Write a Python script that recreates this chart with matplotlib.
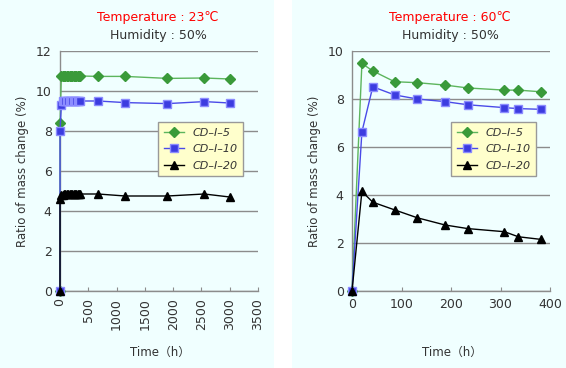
import matplotlib
matplotlib.use("Agg")
import matplotlib.pyplot as plt
from matplotlib.patches import Rectangle

plt.rcParams['font.family'] = ['DejaVu Sans', 'Noto Sans CJK JP']

# ---- Data: 23 C ----
t23 = [0, 1, 24, 48, 72, 96, 120, 144, 168, 192, 216, 240, 264, 288, 312, 336, 360, 672, 1152, 1900, 2550, 3000]
cd5_23 = [0, 8.4, 10.75, 10.75, 10.75, 10.75, 10.75, 10.75, 10.75, 10.75, 10.75, 10.75, 10.75, 10.75, 10.75, 10.75, 10.75, 10.73, 10.73, 10.63, 10.65, 10.6]
cd10_23 = [0, 8.0, 9.3, 9.48, 9.5, 9.5, 9.5, 9.5, 9.5, 9.5, 9.5, 9.5, 9.5, 9.5, 9.5, 9.5, 9.5, 9.5, 9.42, 9.37, 9.47, 9.4]
cd20_23 = [0, 4.6, 4.8, 4.82, 4.85, 4.85, 4.85, 4.85, 4.85, 4.85, 4.85, 4.85, 4.85, 4.85, 4.85, 4.85, 4.85, 4.85, 4.75, 4.75, 4.85, 4.7]

# ---- Data: 60 C ----
t60 = [0, 20, 42, 86, 132, 188, 234, 308, 336, 382]
cd5_60 = [0, 9.48, 9.17, 8.72, 8.68, 8.58, 8.46, 8.37, 8.37, 8.3]
cd10_60 = [0, 6.63, 8.51, 8.17, 8.0, 7.89, 7.76, 7.64, 7.6, 7.57]
cd20_60 = [0, 4.15, 3.7, 3.38, 3.05, 2.75, 2.6, 2.47, 2.26, 2.15]

labels = ["CD\u2013I\u20135", "CD\u2013I\u201310", "CD\u2013I\u201320"]
titles = [("Temperature : 23\u2103", "Humidity : 50%"), ("Temperature : 60\u2103", "Humidity : 50%")]

BG = "#F0FFFF"
TXT = "#333333"
fig = plt.figure(figsize=(5.66, 3.68), dpi=100)
fig.patch.set_facecolor("white")
fig.patches.append(Rectangle((0, 0), 274/566, 1, transform=fig.transFigure, facecolor=BG, edgecolor="none", zorder=-10))
fig.patches.append(Rectangle((292/566, 0), 274/566, 1, transform=fig.transFigure, facecolor=BG, edgecolor="none", zorder=-10))

W, H = 566, 368
def axrect(x0, x1, y0, y1):
    return [x0/W, 1 - y1/H, (x1 - x0)/W, (y1 - y0)/H]

ax1 = fig.add_axes(axrect(60, 258, 51, 291))
ax2 = fig.add_axes(axrect(352, 550, 51, 291))

styles = [
    dict(color="#5DB55D", marker="D", mfc="#3A9A3A", mec="#3A9A3A", ms=5.5),
    dict(color="#4A4AE8", marker="s", mfc="#3C3CE0", mec="#8C8CFF", ms=5.5),
    dict(color="#000000", marker="^", mfc="#000000", mec="#000000", ms=5.5),
]

def setup(ax, t, series, xlim, xticks, ylim, yticks, rot, legend_pos):
    ax.set_facecolor(BG)
    for s, st, lab in zip(series, styles, labels):
        ax.plot(t, s, lw=1.0, label=lab, clip_on=False, zorder=3, **st)
    ax.set_xlim(*xlim)
    ax.set_ylim(*ylim)
    ax.set_xticks(xticks)
    ax.set_yticks(yticks)
    ax.grid(axis="y", color="#8C8C8C", lw=1.0)
    ax.set_axisbelow(True)
    for sp in ["top", "right"]:
        ax.spines[sp].set_visible(False)
    for sp in ["left", "bottom"]:
        ax.spines[sp].set_color("#8C8C8C")
        ax.spines[sp].set_linewidth(1.0)
    ax.tick_params(axis="x", direction="in", length=3, color="#8C8C8C", labelsize=9, labelcolor=TXT, pad=5, labelrotation=rot)
    ax.tick_params(axis="y", length=0, labelsize=9, labelcolor=TXT, pad=6)
    ax.set_ylabel("Ratio of mass change (%)", fontsize=8.5, color=TXT, labelpad=5)
    leg = ax.legend(loc="upper left", bbox_to_anchor=legend_pos, frameon=True, fancybox=False,
                    facecolor="#FFFFCC", edgecolor="#999999", framealpha=1, borderaxespad=0,
                    prop=dict(style="italic", size=8), handlelength=1.8, labelspacing=0.6,
                    borderpad=0.5, handletextpad=0.8)
    for txt in leg.get_texts():
        txt.set_color(TXT)
    leg.get_frame().set_linewidth(1.0)

setup(ax1, t23, [cd5_23, cd10_23, cd20_23], (0, 3500), range(0, 3501, 500), (0, 12), range(0, 13, 2), 90,
      ((158 - 60) / 198, (291 - 122) / 240))
setup(ax2, t60, [cd5_60, cd10_60, cd20_60], (0, 400), range(0, 401, 100), (0, 10), range(0, 11, 2), 0,
      ((451 - 352) / 198, (291 - 122) / 240))

for cx, (t1, t2) in zip([158, 450], titles):
    fig.text(cx / W, 1 - 17 / H, t1, color="#FF0000", fontsize=9, ha="center", va="center")
    fig.text(cx / W, 1 - 35 / H, t2, color=TXT, fontsize=9, ha="center", va="center")

for cx in [160, 452]:
    fig.text(cx / W, 1 - 352 / H, "Time\uff08h\uff09", color=TXT, fontsize=8.5, ha="center", va="center")

fig.savefig("out.png", dpi=100, facecolor="white")
